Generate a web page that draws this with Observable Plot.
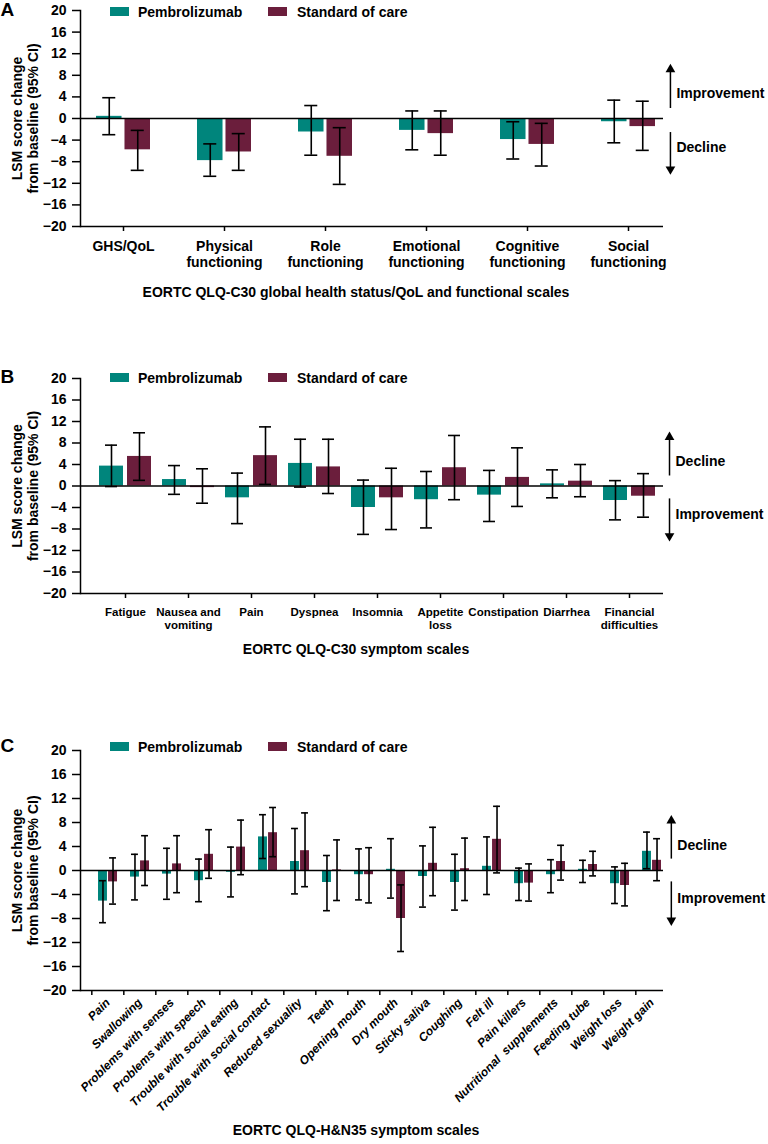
<!DOCTYPE html>
<html><head><meta charset="utf-8">
<script src="https://cdn.jsdelivr.net/npm/d3@7"></script>
<script src="https://cdn.jsdelivr.net/npm/@observablehq/plot@0.6"></script>
<style>
body{margin:0;background:#fff;font-family:"Liberation Sans",Arial,Helvetica,sans-serif;}
#root{position:relative;width:768px;height:1144px;overflow:hidden;background:#fff;}
.panel{position:absolute;left:0;width:768px;}
.sw{position:absolute;width:19px;height:9px;}
.lt{position:absolute;font-weight:bold;font-size:14px;line-height:14px;color:#000;white-space:nowrap;}
</style></head>
<body><div id="root"></div>
<script>
// ---------- data ----------
const treatments = ["Pembrolizumab", "Standard of care"];
const yTicks = [20, 16, 12, 8, 4, 0, -4, -8, -12, -16, -20];

// Panel A
const catsA = ["GHS/QoL", "Physical functioning", "Role functioning", "Emotional functioning", "Cognitive functioning", "Social functioning"];
const labelsA = ["GHS/QoL", "Physical\nfunctioning", "Role\nfunctioning", "Emotional\nfunctioning", "Cognitive\nfunctioning", "Social\nfunctioning"];
const pembroA = [0.4, -7.8, -2.5, -2.2, -3.9, -0.6];
const pembroALo = [-3.0, -10.7, -6.8, -5.8, -7.5, -4.5];
const pembroAHi = [3.85, -4.7, 2.4, 1.4, -0.6, 3.4];
const socA = [-5.8, -6.2, -7.0, -2.8, -4.8, -1.5];
const socALo = [-9.6, -9.6, -12.2, -6.8, -8.8, -5.9];
const socAHi = [-2.2, -2.8, -1.7, 1.4, -0.9, 3.2];
const titleA = "EORTC QLQ-C30 global health status/QoL and functional scales";
const annotA = [{y1: 1.85, y2: 9.1, ty: 4.6, label: "Improvement", dir: "up"}, {y1: -2.6, y2: -9.4, ty: -5.4, label: "Decline", dir: "down"}];

// Panel B
const catsB = ["Fatigue", "Nausea and vomiting", "Pain", "Dyspnea", "Insomnia", "Appetite loss", "Constipation", "Diarrhea", "Financial difficulties"];
const labelsB = ["Fatigue", "Nausea and\nvomiting", "Pain", "Dyspnea", "Insomnia", "Appetite\nloss", "Constipation", "Diarrhea", "Financial\ndifficulties"];
const pembroB = [3.7, 1.2, -2.2, 4.2, -4.0, -2.55, -1.7, 0.4, -2.7];
const pembroBLo = [-0.1, -1.55, -7.0, -0.2, -9.0, -7.8, -6.6, -2.2, -6.3];
const pembroBHi = [7.6, 3.8, 2.4, 8.7, 1.1, 2.7, 2.9, 3.0, 1.0];
const socB = [5.5, -0.3, 5.65, 3.55, -2.2, 3.4, 1.6, 0.9, -1.9];
const socBLo = [1.05, -3.2, 0.3, -1.4, -8.1, -2.55, -3.8, -2.0, -5.8];
const socBHi = [9.9, 3.2, 11.0, 8.7, 3.3, 9.4, 7.1, 4.0, 2.3];
const titleB = "EORTC QLQ-C30 symptom scales";
const annotB = [{y1: 1.86, y2: 9.1, ty: 4.5, label: "Decline", dir: "up"}, {y1: -2.4, y2: -9.3, ty: -5.3, label: "Improvement", dir: "down"}];

// Panel C
const catsC = ["Pain", "Swallowing", "Problems with senses", "Problems with speech", "Trouble with social eating", "Trouble with social contact", "Reduced sexuality", "Teeth", "Opening mouth", "Dry mouth", "Sticky saliva", "Coughing", "Felt ill", "Pain killers", "Nutritional  supplements", "Feeding tube", "Weight loss", "Weight gain"];
const pembroC = [-5.1, -1.1, -0.6, -1.7, -0.3, 5.6, 1.5, -2.0, -0.7, 0.2, -1.0, -2.0, 0.7, -2.2, -0.7, 0.2, -2.2, 3.2];
const pembroCLo = [-8.7, -4.9, -4.8, -5.2, -4.4, 2.0, -3.9, -6.7, -4.9, -4.6, -6.1, -6.6, -4.0, -5.0, -3.7, -2.0, -5.5, 0.3];
const pembroCHi = [-1.7, 2.7, 3.7, 1.9, 3.9, 9.3, 7.0, 2.5, 3.6, 5.3, 4.1, 2.7, 5.6, 0.4, 1.8, 1.7, 0.6, 6.4];
const socC = [-1.9, 1.6, 1.1, 2.7, 3.9, 6.3, 3.3, 0.1, -0.7, -8.0, 1.2, 0.3, 5.2, -2.1, 1.5, 1.0, -2.5, 1.7];
const socCLo = [-5.6, -2.5, -3.7, -1.3, -0.7, 2.3, -2.7, -5.0, -5.4, -13.5, -4.2, -5.0, -0.4, -5.1, -1.6, -0.9, -5.9, -1.7];
const socCHi = [2.1, 5.8, 5.8, 6.8, 8.4, 10.5, 9.6, 5.1, 3.8, -2.4, 7.2, 5.4, 10.7, 1.1, 4.2, 3.2, 1.2, 5.3];
const titleC = "EORTC QLQ-H&N35 symptom scales";
const annotC = [{y1: 1.9, y2: 8.3, ty: 4.2, label: "Decline", dir: "up"}, {y1: -1.9, y2: -8.3, ty: -4.7, label: "Improvement", dir: "down"}];

const yLabel = "LSM score change\nfrom baseline (95% CI)";

// ---------- styling ----------
const FONT = '"Liberation Sans", Arial, Helvetica, sans-serif';
const TEAL = "#00857c";
const MAROON = "#6b1e3c";

function buildRows(cats, p, pLo, pHi, s, sLo, sHi) {
  return cats.flatMap((c, i) => [
    {cat: c, trt: treatments[0], v: p[i], lo: pLo[i], hi: pHi[i]},
    {cat: c, trt: treatments[1], v: s[i], lo: sLo[i], hi: sHi[i]}
  ]);
}

function makePanel(cfg) {
  const {cats, labels, rows, letter, title, annot, top, marginTop, frameH, marginBottom,
         pi, po, align, gap, capW, xFont, xPad, rotate, titleDy, letterDy, legendTop} = cfg;
  const left = 80, right = 663, W = 768;
  const n = cats.length;
  const step = (right - left) / (n - pi + 2 * po);
  const bw = step * (1 - pi);
  const start = left + (right - left - step * (n - pi)) * align;
  const lastCenter = start + step * (n - 1) + bw / 2;
  const barInset = bw / 2 + gap / 2;
  const off = bw / 4 + gap / 4;
  const capInset = (bw - capW) / 2;
  const last = cats[n - 1];
  const arrowDx = 671 - lastCenter;
  const P = rows.filter(d => d.trt === treatments[0]);
  const S = rows.filter(d => d.trt === treatments[1]);
  const labelMap = new Map(cats.map((c, i) => [c, labels ? labels[i] : c]));
  const up = annot.filter(d => d.dir === "up");
  const down = annot.filter(d => d.dir === "down");

  const xAxes = rotate ? [
    Plot.axisX({tickSize: 0, tickPadding: xPad, tickRotate: rotate, tickFormat: d => labelMap.get(d),
      fontSize: xFont, fontWeight: "bold", fontStyle: "italic", label: null}),
    Plot.axisX({tickSize: 5, tickFormat: () => "", dx: -step / 2, strokeWidth: 1.5, label: null})
  ] : [
    Plot.axisX({tickSize: 5, tickPadding: xPad, tickFormat: d => labelMap.get(d), fontSize: xFont,
      fontWeight: "bold", lineHeight: 1.15, strokeWidth: 1.5, label: null})
  ];

  const plot = Plot.plot({
    width: W,
    height: marginTop + frameH + marginBottom,
    marginLeft: left,
    marginRight: W - right,
    marginTop,
    marginBottom,
    style: {fontFamily: FONT, color: "black", background: "white", overflow: "visible"},
    x: {domain: cats, paddingInner: pi, paddingOuter: po, align},
    y: {domain: [-20, 20]},
    marks: [
      Plot.barY(P, {x: "cat", y: "v", fill: TEAL, insetRight: barInset}),
      Plot.barY(S, {x: "cat", y: "v", fill: MAROON, insetLeft: barInset}),
      Plot.ruleY([0], {stroke: "black", strokeWidth: 1.5}),
      Plot.ruleX(P, {x: "cat", y1: "lo", y2: "hi", dx: -off, stroke: "black", strokeWidth: 1.6}),
      Plot.ruleX(S, {x: "cat", y1: "lo", y2: "hi", dx: off, stroke: "black", strokeWidth: 1.6}),
      Plot.tickY(P, {x: "cat", y: "lo", dx: -off, insetLeft: capInset, insetRight: capInset, strokeWidth: 1.6}),
      Plot.tickY(P, {x: "cat", y: "hi", dx: -off, insetLeft: capInset, insetRight: capInset, strokeWidth: 1.6}),
      Plot.tickY(S, {x: "cat", y: "lo", dx: off, insetLeft: capInset, insetRight: capInset, strokeWidth: 1.6}),
      Plot.tickY(S, {x: "cat", y: "hi", dx: off, insetLeft: capInset, insetRight: capInset, strokeWidth: 1.6}),
      Plot.ruleY([-20], {stroke: "black", strokeWidth: 1.5}),
      Plot.frame({anchor: "left", stroke: "black", strokeWidth: 1.5}),
      Plot.axisY({ticks: yTicks, tickSize: 8, tickPadding: 6, fontSize: 14, fontWeight: "bold", strokeWidth: 1.5, label: null}),
      ...xAxes,
      Plot.text([title], {frameAnchor: "bottom", dx: -16, dy: titleDy, fontSize: 14, fontWeight: "bold"}),
      Plot.text([yLabel], {frameAnchor: "left", rotate: -90, dx: -56, textAnchor: "middle", fontSize: 14, fontWeight: "bold", lineHeight: 1.15}),
      Plot.text([letter], {frameAnchor: "top-left", dx: -80, dy: letterDy, lineAnchor: "top", textAnchor: "start", fontSize: 19, fontWeight: "bold"}),
      // annotation arrows: shafts + filled heads
      Plot.ruleX(annot, {x: () => last, y1: "y1", y2: "y2", dx: arrowDx, stroke: "black", strokeWidth: 1.5}),
      Plot.dot(up, {x: () => last, y: "y2", dx: arrowDx, symbol: "triangle", r: 3.6, fill: "black", stroke: null}),
      Plot.dot(down, {x: () => last, y: "y2", dx: arrowDx, symbol: "triangle", rotate: 180, r: 3.6, fill: "black", stroke: null}),
      Plot.text(annot, {x: () => last, y: "ty", text: "label", dx: arrowDx + 6, textAnchor: "start", fontSize: 14, fontWeight: "bold"})
    ]
  });

  const div = document.createElement("div");
  div.className = "panel";
  div.style.top = top + "px";
  div.appendChild(plot);
  // legend
  const colors = [TEAL, MAROON];
  const swX = [110, 268], txX = [138, 297];
  treatments.forEach((t, i) => {
    const sw = document.createElement("div");
    sw.className = "sw";
    sw.style.left = swX[i] + "px";
    sw.style.top = legendTop + "px";
    sw.style.background = colors[i];
    div.appendChild(sw);
    const lt = document.createElement("div");
    lt.className = "lt";
    lt.style.left = txX[i] + "px";
    lt.style.top = (legendTop - 2) + "px";
    lt.textContent = t;
    div.appendChild(lt);
  });
  document.getElementById("root").appendChild(div);
}

makePanel({
  cats: catsA, labels: labelsA, rows: buildRows(catsA, pembroA, pembroALo, pembroAHi, socA, socALo, socAHi),
  letter: "A", title: titleA, annot: annotA, top: 0, marginTop: 10, frameH: 216, marginBottom: 84,
  pi: 0.47, po: 0.0975, align: 0.65, gap: 3, capW: 13, xFont: 14, xPad: 8, rotate: 0, titleDy: 70, letterDy: -8, legendTop: 7
});
makePanel({
  cats: catsB, labels: labelsB, rows: buildRows(catsB, pembroB, pembroBLo, pembroBHi, socB, socBLo, socBHi),
  letter: "B", title: titleB, annot: annotB, top: 360, marginTop: 18, frameH: 215, marginBottom: 87,
  pi: 0.17, po: 0.1485, align: 0.71, gap: 3, capW: 13, xFont: 11.5, xPad: 8, rotate: 0, titleDy: 60, letterDy: -9, legendTop: 13
});
makePanel({
  cats: catsC, labels: null, rows: buildRows(catsC, pembroC, pembroCLo, pembroCHi, socC, socCLo, socCHi),
  letter: "C", title: titleC, annot: annotC, top: 720, marginTop: 30, frameH: 240, marginBottom: 154,
  pi: 0.41, po: 0.2115, align: 0.87, gap: 1, capW: 7, xFont: 12, xPad: 10, rotate: -45, titleDy: 144, letterDy: -12, legendTop: 22
});
</script>
</body></html>
